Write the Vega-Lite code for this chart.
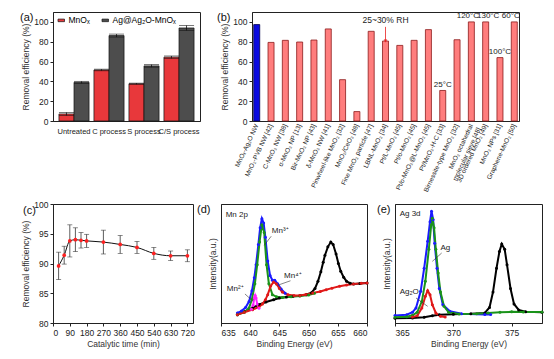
{
  "$schema": "https://vega.github.io/schema/vega-lite/v6.json",
  "background": "white",
  "padding": {"left": 19, "top": 11, "right": 2, "bottom": 2},
  "config": {
    "font": "Liberation Sans",
    "view": {"stroke": "#222", "strokeWidth": 1},
    "axis": {"grid": false, "domainColor": "#222", "tickColor": "#222", "labelColor": "#222", "titleColor": "#333", "labelFontSize": 8.5, "titleFontSize": 8.5, "titleFontWeight": "normal", "tickSize": 3, "labelPadding": 2, "titlePadding": 3},
    "title": {"fontSize": 11, "fontWeight": "normal", "anchor": "start", "frame": "group", "baseline": "top", "offset": 0, "color": "#111"}
  },
  "datasets": {
    "a": [
      {"process": "Untreated", "series": "MnOₓ", "value": 7.1, "err": 1.5},
      {"process": "Untreated", "series": "Ag@Ag₂O-MnOₓ", "value": 39, "err": 1},
      {"process": "C process", "series": "MnOₓ", "value": 51.5, "err": 0.8},
      {"process": "C process", "series": "Ag@Ag₂O-MnOₓ", "value": 86.2, "err": 1.5},
      {"process": "S process", "series": "MnOₓ", "value": 37.6, "err": 0.6},
      {"process": "S process", "series": "Ag@Ag₂O-MnOₓ", "value": 55.6, "err": 1.3},
      {"process": "C/S process", "series": "MnOₓ", "value": 64.4, "err": 1.2},
      {"process": "C/S process", "series": "Ag@Ag₂O-MnOₓ", "value": 93.9, "err": 2.5}
    ],
    "b": [
      {"material": "MnOₓ-Ag₂O NW", "value": 97.3, "kind": "this", "temp": null, "rh": null},
      {"material": "MnO₂-PVB NW [42]", "value": 79.3, "kind": "ref", "temp": null, "rh": null},
      {"material": "C-MnO₂ NW [38]", "value": 81.4, "kind": "ref", "temp": null, "rh": null},
      {"material": "α-MnO₂ NP [13]", "value": 79.7, "kind": "ref", "temp": null, "rh": null},
      {"material": "Bir-MnO₂ NP [43]", "value": 81.7, "kind": "ref", "temp": null, "rh": null},
      {"material": "δ-MnO₂ NW [41]", "value": 92.9, "kind": "ref", "temp": null, "rh": null},
      {"material": "Pinwheel-like MnO₂ [32]", "value": 41.7, "kind": "ref", "temp": null, "rh": null},
      {"material": "MnO₂/CeO₂ [48]", "value": 9.5, "kind": "ref", "temp": null, "rh": null},
      {"material": "Fine MnO₂ particle [47]", "value": 90.5, "kind": "ref", "temp": null, "rh": null},
      {"material": "LBNL-MnO₂ [34]", "value": 80.7, "kind": "ref", "temp": null, "rh": "25~30% RH"},
      {"material": "Pt/L-MnO₂ [45]", "value": 76.3, "kind": "ref", "temp": null, "rh": null},
      {"material": "Pt/o-MnO₂ [45]", "value": 81.4, "kind": "ref", "temp": null, "rh": null},
      {"material": "Pt/o-MnO₂@L-MnO₂ [45]", "value": 92.2, "kind": "ref", "temp": null, "rh": null},
      {"material": "Pt/MnO₂-H-C [33]", "value": 30.8, "kind": "ref", "temp": "25°C", "rh": null},
      {"material": "Birnessite-type MnO₂ [32]", "value": 82, "kind": "ref", "temp": null, "rh": null},
      {"material": "MnO₂ octahedral|molecular sieve [48]", "value": 100, "kind": "ref", "temp": "120°C", "rh": null},
      {"material": "3D ordered MnO₂ [49]", "value": 100, "kind": "ref", "temp": "130°C", "rh": null},
      {"material": "MnO₂ NPs [31]", "value": 64, "kind": "ref", "temp": "100°C", "rh": null},
      {"material": "Graphene-MnO₂ [50]", "value": 100, "kind": "ref", "temp": "60°C", "rh": null}
    ],
    "c": [
      {"t": 30, "eff": 89.6, "err": 2.3},
      {"t": 60, "eff": 91.4, "err": 1.5},
      {"t": 90, "eff": 93.8, "err": 2.7},
      {"t": 120, "eff": 94.0, "err": 2.0},
      {"t": 150, "eff": 93.9, "err": 1.3},
      {"t": 180, "eff": 93.8, "err": 1.1},
      {"t": 270, "eff": 93.6, "err": 2.0},
      {"t": 360, "eff": 93.2, "err": 1.5},
      {"t": 450, "eff": 92.7, "err": 1.0},
      {"t": 540, "eff": 91.7, "err": 1.0},
      {"t": 630, "eff": 91.3, "err": 0.8},
      {"t": 720, "eff": 91.3, "err": 1.0}
    ],
    "d": [
      {"compd": "bg", "E": 637.8, "I": 7}, {"compd": "bg", "E": 639, "I": 9.5}, {"compd": "bg", "E": 640.4, "I": 12.6}, {"compd": "bg", "E": 641.5, "I": 15.5}, {"compd": "bg", "E": 642.7, "I": 17.6}, {"compd": "bg", "E": 644, "I": 19.5}, {"compd": "bg", "E": 645, "I": 21}, {"compd": "bg", "E": 646.2, "I": 21.8}, {"compd": "bg", "E": 647.3, "I": 22.4}, {"compd": "bg", "E": 648.5, "I": 23}, {"compd": "bg", "E": 649.6, "I": 23.8}, {"compd": "bg", "E": 650.5, "I": 25.5}, {"compd": "bg", "E": 651.1, "I": 29}, {"compd": "bg", "E": 651.6, "I": 35}, {"compd": "bg", "E": 652.1, "I": 43}, {"compd": "bg", "E": 652.5, "I": 51}, {"compd": "bg", "E": 652.8, "I": 57}, {"compd": "bg", "E": 653.3, "I": 64}, {"compd": "bg", "E": 653.8, "I": 68}, {"compd": "bg", "E": 654.2, "I": 66}, {"compd": "bg", "E": 654.7, "I": 58}, {"compd": "bg", "E": 655.1, "I": 50}, {"compd": "bg", "E": 655.5, "I": 43.5}, {"compd": "bg", "E": 656, "I": 38.5}, {"compd": "bg", "E": 656.5, "I": 35}, {"compd": "bg", "E": 657.1, "I": 33.5}, {"compd": "bg", "E": 657.7, "I": 32.8}, {"compd": "bg", "E": 658.8, "I": 33.2}, {"compd": "bg", "E": 660, "I": 33.6},
      {"compd": "total", "E": 637.8, "I": 8.4}, {"compd": "total", "E": 638.5, "I": 10}, {"compd": "total", "E": 639.2, "I": 13}, {"compd": "total", "E": 639.8, "I": 18}, {"compd": "total", "E": 640.3, "I": 27}, {"compd": "total", "E": 640.7, "I": 38}, {"compd": "total", "E": 641, "I": 49}, {"compd": "total", "E": 641.4, "I": 66}, {"compd": "total", "E": 641.7, "I": 80}, {"compd": "total", "E": 642, "I": 87.7}, {"compd": "total", "E": 642.3, "I": 84}, {"compd": "total", "E": 642.6, "I": 72}, {"compd": "total", "E": 643, "I": 52}, {"compd": "total", "E": 643.4, "I": 40}, {"compd": "total", "E": 643.8, "I": 36}, {"compd": "total", "E": 644.2, "I": 36}, {"compd": "total", "E": 644.7, "I": 33}, {"compd": "total", "E": 645.3, "I": 28.5}, {"compd": "total", "E": 646, "I": 25},
      {"compd": "Mn3", "E": 637.8, "I": 7}, {"compd": "Mn3", "E": 639, "I": 9}, {"compd": "Mn3", "E": 639.8, "I": 12.6}, {"compd": "Mn3", "E": 640.3, "I": 20}, {"compd": "Mn3", "E": 640.8, "I": 33}, {"compd": "Mn3", "E": 641.2, "I": 49}, {"compd": "Mn3", "E": 641.6, "I": 68}, {"compd": "Mn3", "E": 642, "I": 82.6}, {"compd": "Mn3", "E": 642.4, "I": 76}, {"compd": "Mn3", "E": 642.8, "I": 49}, {"compd": "Mn3", "E": 643.2, "I": 33}, {"compd": "Mn3", "E": 643.8, "I": 23.8}, {"compd": "Mn3", "E": 644.5, "I": 22}, {"compd": "Mn3", "E": 645.5, "I": 21.5}, {"compd": "Mn3", "E": 647, "I": 22}, {"compd": "Mn3", "E": 648.5, "I": 22.6}, {"compd": "Mn3", "E": 650, "I": 23.6}, {"compd": "Mn3", "E": 651, "I": 25},
      {"compd": "Mn4", "E": 637.8, "I": 7}, {"compd": "Mn4", "E": 639, "I": 9}, {"compd": "Mn4", "E": 640.4, "I": 11.2}, {"compd": "Mn4", "E": 641.5, "I": 13.5}, {"compd": "Mn4", "E": 642.1, "I": 16}, {"compd": "Mn4", "E": 642.6, "I": 19.5}, {"compd": "Mn4", "E": 643, "I": 23.8}, {"compd": "Mn4", "E": 643.5, "I": 31}, {"compd": "Mn4", "E": 644, "I": 34.5}, {"compd": "Mn4", "E": 644.5, "I": 32.8}, {"compd": "Mn4", "E": 645, "I": 29}, {"compd": "Mn4", "E": 645.5, "I": 26}, {"compd": "Mn4", "E": 646.5, "I": 23.8}, {"compd": "Mn4", "E": 647.5, "I": 23.2}, {"compd": "Mn4", "E": 648.5, "I": 23.2}, {"compd": "Mn4", "E": 649.5, "I": 24}, {"compd": "Mn4", "E": 650.7, "I": 25.2}, {"compd": "Mn4", "E": 652, "I": 26.5}, {"compd": "Mn4", "E": 653, "I": 28}, {"compd": "Mn4", "E": 654, "I": 29.3}, {"compd": "Mn4", "E": 655.3, "I": 30.8}, {"compd": "Mn4", "E": 656.5, "I": 32}, {"compd": "Mn4", "E": 657.7, "I": 32.8}, {"compd": "Mn4", "E": 659, "I": 33.3}, {"compd": "Mn4", "E": 660, "I": 33.6},
      {"compd": "Mn2", "E": 640.2, "I": 11.5}, {"compd": "Mn2", "E": 640.5, "I": 15}, {"compd": "Mn2", "E": 640.7, "I": 21}, {"compd": "Mn2", "E": 640.85, "I": 23.2}, {"compd": "Mn2", "E": 641, "I": 21}, {"compd": "Mn2", "E": 641.2, "I": 16}, {"compd": "Mn2", "E": 641.5, "I": 12.5}
    ],
    "dtext": [
      {"E": 635.8, "I": 90.8, "label": "Mn 2p"},
      {"E": 643.7, "I": 77.6, "label": "Mn³⁺"},
      {"E": 645.8, "I": 39.2, "label": "Mn⁴⁺"},
      {"E": 636.0, "I": 28.8, "label": "Mn²⁺"}
    ],
    "dptr": [
      {"E": 642.4, "I": 65.3, "E2": 643.6, "I2": 72.9},
      {"E": 644.7, "I": 31.7, "E2": 646.9, "I2": 35.5},
      {"E": 639.1, "I": 24.4, "E2": 640.5, "I2": 18.2}
    ],
    "e": [
      {"compe": "bg", "E": 365, "I": 4}, {"compe": "bg", "E": 366.5, "I": 4.2}, {"compe": "bg", "E": 367.5, "I": 4.8}, {"compe": "bg", "E": 368.2, "I": 6}, {"compe": "bg", "E": 368.8, "I": 7}, {"compe": "bg", "E": 370, "I": 7.4}, {"compe": "bg", "E": 371.5, "I": 7.8}, {"compe": "bg", "E": 372.7, "I": 8.5}, {"compe": "bg", "E": 373.1, "I": 13}, {"compe": "bg", "E": 373.4, "I": 26}, {"compe": "bg", "E": 373.7, "I": 46}, {"compe": "bg", "E": 373.95, "I": 60}, {"compe": "bg", "E": 374.15, "I": 66.4}, {"compe": "bg", "E": 374.4, "I": 62}, {"compe": "bg", "E": 374.6, "I": 49}, {"compe": "bg", "E": 374.9, "I": 29}, {"compe": "bg", "E": 375.2, "I": 16}, {"compe": "bg", "E": 375.6, "I": 11}, {"compe": "bg", "E": 376.2, "I": 9.5}, {"compe": "bg", "E": 377.6, "I": 9},
      {"compe": "total", "E": 365, "I": 6.4}, {"compe": "total", "E": 366, "I": 7}, {"compe": "total", "E": 366.5, "I": 9}, {"compe": "total", "E": 366.8, "I": 12.6}, {"compe": "total", "E": 367.2, "I": 26.6}, {"compe": "total", "E": 367.5, "I": 46}, {"compe": "total", "E": 367.8, "I": 68.6}, {"compe": "total", "E": 368, "I": 85}, {"compe": "total", "E": 368.13, "I": 94}, {"compe": "total", "E": 368.27, "I": 87}, {"compe": "total", "E": 368.4, "I": 67}, {"compe": "total", "E": 368.6, "I": 46}, {"compe": "total", "E": 368.8, "I": 29}, {"compe": "total", "E": 369.1, "I": 15.4}, {"compe": "total", "E": 369.7, "I": 9.8}, {"compe": "total", "E": 370.7, "I": 7.8}, {"compe": "total", "E": 372.7, "I": 7.2}, {"compe": "total", "E": 373.2, "I": 7.2},
      {"compe": "Ag", "E": 365, "I": 4.8}, {"compe": "Ag", "E": 366, "I": 5.2}, {"compe": "Ag", "E": 366.5, "I": 6.5}, {"compe": "Ag", "E": 366.9, "I": 9}, {"compe": "Ag", "E": 367.3, "I": 18}, {"compe": "Ag", "E": 367.6, "I": 35}, {"compe": "Ag", "E": 367.9, "I": 62}, {"compe": "Ag", "E": 368.1, "I": 82}, {"compe": "Ag", "E": 368.2, "I": 88}, {"compe": "Ag", "E": 368.35, "I": 80}, {"compe": "Ag", "E": 368.5, "I": 62}, {"compe": "Ag", "E": 368.7, "I": 42}, {"compe": "Ag", "E": 368.9, "I": 26}, {"compe": "Ag", "E": 369.2, "I": 14}, {"compe": "Ag", "E": 369.6, "I": 9}, {"compe": "Ag", "E": 370.5, "I": 7.5}, {"compe": "Ag", "E": 372, "I": 7.8}, {"compe": "Ag", "E": 373, "I": 8.3}, {"compe": "Ag", "E": 374, "I": 9}, {"compe": "Ag", "E": 375, "I": 9.4}, {"compe": "Ag", "E": 376, "I": 9.3}, {"compe": "Ag", "E": 377.6, "I": 9.2},
      {"compe": "Ag2O", "E": 366.5, "I": 5}, {"compe": "Ag2O", "E": 366.9, "I": 6}, {"compe": "Ag2O", "E": 367.3, "I": 12.6}, {"compe": "Ag2O", "E": 367.6, "I": 22.4}, {"compe": "Ag2O", "E": 367.8, "I": 27.2}, {"compe": "Ag2O", "E": 368, "I": 23.8}, {"compe": "Ag2O", "E": 368.2, "I": 15.4}, {"compe": "Ag2O", "E": 368.5, "I": 8.4}, {"compe": "Ag2O", "E": 368.9, "I": 5.6}, {"compe": "Ag2O", "E": 369.3, "I": 5}
    ],
    "etext": [
      {"E": 365.4, "I": 91.6, "label": "Ag 3d"},
      {"E": 368.9, "I": 63, "label": "Ag"},
      {"E": 365.4, "I": 26, "label": "Ag₂O"}
    ],
    "eptr": [
      {"E": 368.2, "I": 51.8, "E2": 369.0, "I2": 58.8},
      {"E": 366.8, "I": 21, "E2": 367.8, "I2": 14}
    ]
  },
  "resolve": {"scale": {"color": "independent", "stroke": "independent"}, "legend": {"color": "independent"}},
  "spacing": 5,
  "vconcat": [
    {
      "bounds": "flush",
      "spacing": 52,
      "resolve": {"scale": {"color": "independent", "stroke": "independent"}, "legend": {"color": "independent"}},
      "hconcat": [
        {
          "width": 147, "height": 109,
          "title": {"text": "(a)", "dx": -33, "dy": 15},
          "data": {"name": "a"},
          "encoding": {
            "x": {"field": "process", "type": "nominal", "sort": ["Untreated", "C process", "S process", "C/S process"], "scale": {"paddingInner": 0.14, "paddingOuter": 0.17}, "axis": {"title": null, "labelAngle": 0, "ticks": false, "labelFontSize": 7.5, "labelPadding": 6}},
            "xOffset": {"field": "series", "type": "nominal", "sort": ["MnOₓ", "Ag@Ag₂O-MnOₓ"]},
            "y": {"field": "value", "type": "quantitative", "scale": {"domain": [0, 110], "nice": false}, "axis": {"values": [0, 20, 40, 60, 80, 100], "title": "Removal efficiency (%)"}}
          },
          "layer": [
            {
              "mark": {"type": "bar", "stroke": "#111", "strokeWidth": 0.7},
              "encoding": {
                "color": {"field": "series", "type": "nominal", "sort": ["MnOₓ", "Ag@Ag₂O-MnOₓ"], "scale": {"domain": ["MnOₓ", "Ag@Ag₂O-MnOₓ"], "range": ["#e8383b", "#4d4d4d"]},
                  "legend": {"title": null, "orient": "top-left", "direction": "horizontal", "offset": 4, "symbolType": "M-1,-0.4H1V0.4H-1Z", "symbolSize": 42, "symbolStrokeColor": "#111", "symbolStrokeWidth": 0.7, "labelFontSize": 8.5, "columnPadding": 10, "labelOffset": 3, "padding": 0}}
              }
            },
            {
              "mark": {"type": "errorbar", "ticks": true, "color": "#111", "thickness": 0.8},
              "encoding": {"yError": {"field": "err"}}
            }
          ]
        },
        {
          "width": 267, "height": 109,
          "title": {"text": "(b)", "dx": -35, "dy": 15},
          "data": {"name": "b"},
          "encoding": {
            "x": {"field": "material", "type": "nominal", "sort": null,
              "scale": {"paddingInner": 0.58, "paddingOuter": 0.12, "domain": ["MnOₓ-Ag₂O NW", "MnO₂-PVB NW [42]", "C-MnO₂ NW [38]", "α-MnO₂ NP [13]", "Bir-MnO₂ NP [43]", "δ-MnO₂ NW [41]", "Pinwheel-like MnO₂ [32]", "MnO₂/CeO₂ [48]", "Fine MnO₂ particle [47]", "LBNL-MnO₂ [34]", "Pt/L-MnO₂ [45]", "Pt/o-MnO₂ [45]", "Pt/o-MnO₂@L-MnO₂ [45]", "Pt/MnO₂-H-C [33]", "Birnessite-type MnO₂ [32]", "MnO₂ octahedral|molecular sieve [48]", "3D ordered MnO₂ [49]", "MnO₂ NPs [31]", "Graphene-MnO₂ [50]"]},
              "axis": {"title": null, "labelAngle": -65, "labelAlign": "right", "labelBaseline": "middle", "labelFontSize": 6.5, "ticks": false, "labelPadding": 3, "labelExpr": "split(datum.label, '|')"}},
            "y": {"field": "value", "type": "quantitative", "scale": {"domain": [0, 110], "nice": false}, "axis": {"values": [0, 20, 40, 60, 80, 100], "title": "Removal efficiency (%)"}}
          },
          "layer": [
            {
              "mark": {"type": "bar", "strokeWidth": 0.8},
              "encoding": {
                "color": {"field": "kind", "type": "nominal", "scale": {"domain": ["this", "ref"], "range": ["#0b0be0", "#ff7d7d"]}, "legend": null},
                "stroke": {"field": "kind", "type": "nominal", "scale": {"domain": ["this", "ref"], "range": ["#00004a", "#8c1a1a"]}, "legend": null}
              }
            },
            {
              "transform": [{"filter": "datum.temp == '25°C' || datum.temp == '100°C'"}],
              "mark": {"type": "text", "baseline": "alphabetic", "dy": -3.5, "fontSize": 8, "color": "#222"},
              "encoding": {"text": {"field": "temp"}}
            },
            {
              "transform": [{"filter": "datum.temp == '120°C' || datum.temp == '60°C'"}],
              "mark": {"type": "text", "baseline": "alphabetic", "dy": -3.5, "dx": -3.5, "fontSize": 8, "color": "#222"},
              "encoding": {"text": {"field": "temp"}}
            },
            {
              "transform": [{"filter": "datum.temp == '130°C'"}],
              "mark": {"type": "text", "baseline": "alphabetic", "dy": -3.5, "dx": 2.5, "fontSize": 8, "color": "#222"},
              "encoding": {"text": {"field": "temp"}}
            },
            {
              "transform": [{"filter": "datum.rh != null"}],
              "mark": {"type": "text", "baseline": "bottom", "dy": -16, "fontSize": 8.5, "color": "#222"},
              "encoding": {"text": {"field": "rh"}}
            },
            {
              "transform": [{"filter": "datum.rh != null"}],
              "mark": {"type": "rule", "color": "#e82020", "strokeWidth": 0.8},
              "encoding": {"y2": {"datum": 95}}
            },
            {
              "transform": [{"filter": "datum.rh != null"}],
              "mark": {"type": "point", "shape": "triangle-down", "filled": true, "color": "#e82020", "size": 12, "opacity": 1}
            }
          ]
        }
      ]
    },
    {
      "bounds": "flush",
      "spacing": 28,
      "resolve": {"scale": {"color": "independent", "stroke": "independent"}, "legend": {"color": "independent"}},
      "hconcat": [
        {
          "width": 140, "height": 119,
          "title": {"text": "(c)", "dx": -30, "dy": 20},
          "data": {"name": "c"},
          "encoding": {
            "x": {"field": "t", "type": "quantitative", "scale": {"domain": [0, 750], "nice": false}, "axis": {"values": [0, 90, 180, 270, 360, 450, 540, 630, 720], "title": "Catalytic time (min)"}},
            "y": {"field": "eff", "type": "quantitative", "scale": {"domain": [80, 100], "nice": false, "zero": false}, "axis": {"values": [80, 85, 90, 95, 100], "title": "Removal efficiency (%)"}}
          },
          "layer": [
            {"mark": {"type": "errorbar", "ticks": true, "color": "#333", "thickness": 0.8}, "encoding": {"yError": {"field": "err"}}},
            {"mark": {"type": "line", "interpolate": "monotone", "color": "#111", "strokeWidth": 1}},
            {"mark": {"type": "point", "filled": true, "color": "#ff2020", "size": 14, "opacity": 1}}
          ]
        },
        {
          "width": 146, "height": 119,
          "title": {"text": "(d)", "dx": -24, "dy": 15},
          "encoding": {
            "x": {"field": "E", "type": "quantitative", "scale": {"domain": [635, 660], "nice": false, "zero": false}, "axis": {"values": [635, 640, 645, 650, 655, 660], "title": "Binding Energy (eV)"}},
            "y": {"field": "I", "type": "quantitative", "scale": {"domain": [0, 100], "nice": false}, "axis": {"labels": false, "ticks": false, "title": "Intensity(a.u.)", "titlePadding": 4}}
          },
          "layer": [
            {
              "data": {"name": "d"},
              "mark": {"type": "line", "strokeWidth": 2, "point": {"filled": true, "size": 9}},
              "encoding": {"color": {"field": "compd", "type": "nominal", "scale": {"domain": ["bg", "total", "Mn3", "Mn4", "Mn2"], "range": ["#000000", "#1a1aff", "#1a931a", "#e01818", "#ff20ff"]}, "legend": null}}
            },
            {
              "data": {"name": "dptr"},
              "mark": {"type": "rule", "color": "#333", "strokeWidth": 0.6},
              "encoding": {"x2": {"field": "E2"}, "y2": {"field": "I2"}}
            },
            {
              "data": {"name": "dtext"},
              "mark": {"type": "text", "align": "left", "baseline": "middle", "fontSize": 8, "color": "#222"},
              "encoding": {"text": {"field": "label"}}
            }
          ]
        },
        {
          "width": 147, "height": 119,
          "title": {"text": "(e)", "dx": -18, "dy": 15},
          "encoding": {
            "x": {"field": "E", "type": "quantitative", "scale": {"domain": [365, 377.6], "nice": false, "zero": false}, "axis": {"values": [365, 370, 375], "title": "Binding Energy (eV)"}},
            "y": {"field": "I", "type": "quantitative", "scale": {"domain": [0, 100], "nice": false}, "axis": {"labels": false, "ticks": false, "title": "Intensity(a.u.)", "titlePadding": 4}}
          },
          "layer": [
            {
              "data": {"name": "e"},
              "mark": {"type": "line", "strokeWidth": 2, "point": {"filled": true, "size": 9}},
              "encoding": {"color": {"field": "compe", "type": "nominal", "scale": {"domain": ["bg", "total", "Ag", "Ag2O"], "range": ["#000000", "#1a1aff", "#1a931a", "#e01818"]}, "legend": null}}
            },
            {
              "data": {"name": "eptr"},
              "mark": {"type": "rule", "color": "#333", "strokeWidth": 0.6},
              "encoding": {"x2": {"field": "E2"}, "y2": {"field": "I2"}}
            },
            {
              "data": {"name": "etext"},
              "mark": {"type": "text", "align": "left", "baseline": "middle", "fontSize": 8, "color": "#222"},
              "encoding": {"text": {"field": "label"}}
            }
          ]
        }
      ]
    }
  ]
}
